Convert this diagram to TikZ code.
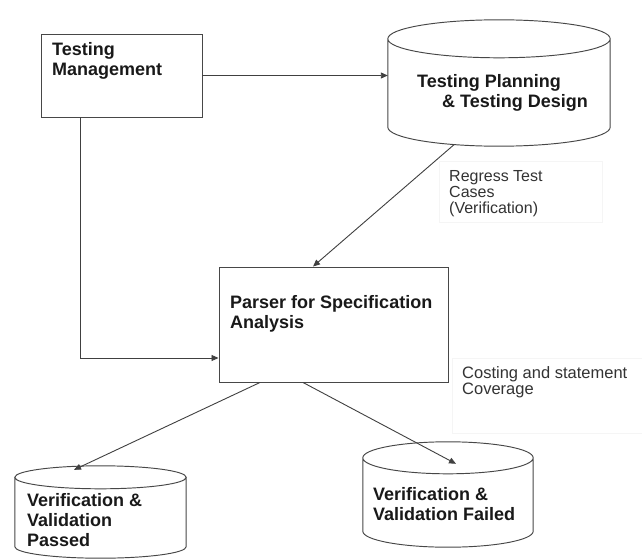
\documentclass[tikz,border=0pt]{standalone}
\usepackage{fontspec}
\setmainfont{Liberation Sans}
\usetikzlibrary{arrows.meta,calc}
\tikzset{
  shapeline/.style={draw=black!72, line width=0.95pt},
  boxnode/.style={shapeline, rectangle, inner sep=0pt},
  cylarea/.style={rectangle, draw=none, inner sep=0pt},
  bigtext/.style={inner sep=0pt, anchor=north west, align=left, text=black!90,
    font=\bfseries\fontsize{18}{20}\selectfont},
  smalltext/.style={inner sep=0pt, anchor=north west, align=left, text=black!80,
    font=\fontsize{16}{16}\selectfont},
  faintbox/.style={rectangle, draw=black!4, line width=0.8pt, inner sep=0pt},
  conn/.style={draw=black!75, line width=0.9pt},
  arr/.style={conn, -{Triangle[length=7pt,width=6pt]}}
}
\newcommand\cylpath[2]{%
  \draw[shapeline] let \p1=(#1.north west), \p2=(#1.south east),
    \n1={(\x2-\x1)/2} in
    ({(\x1+\x2)/2},{\y1-#2}) ellipse [x radius=\n1, y radius=#2]
    (\x1,{\y1-#2}) -- (\x1,{\y2+#2})
    arc [start angle=180, end angle=360, x radius=\n1, y radius=#2]
    -- (\x2,{\y1-#2});
}
\begin{document}
\begin{tikzpicture}[x=1pt,y=-1pt]
\useasboundingbox[fill=white] (0,0) rectangle (642,559);

% label boxes (faint)
\node[faintbox, minimum width=163pt, minimum height=61pt, anchor=north west] (regbox) at (439,161) {};
\node[faintbox, minimum width=200pt, minimum height=75pt, anchor=north west] (costbox) at (452,358) {};

% main shapes
\node[boxnode, minimum width=161pt, minimum height=83pt] (tm) at (121.5,75.5) {};
\node[cylarea, minimum width=222pt, minimum height=126pt] (tpd) at (499,83) {};
\node[boxnode, minimum width=229pt, minimum height=115pt] (parser) at (333.5,324.5) {};
\node[cylarea, minimum width=171pt, minimum height=92pt] (vvp) at (100.5,512) {};
\node[cylarea, minimum width=170pt, minimum height=105pt] (vvf) at (448,494.5) {};

\cylpath{tpd}{19pt}
\cylpath{vvp}{11.5pt}
\cylpath{vvf}{16pt}

% texts
\node[bigtext] (tmt) at (52,42.5) {Testing\\Management};
\node[bigtext] (tpdt) at (417,74) {Testing Planning\\\hspace*{25pt}\& Testing Design};
\node[bigtext] (pt) at (230,295) {Parser for Specification\\Analysis};
\node[bigtext] (vvpt) at (27,493) {Verification \&\\Validation\\Passed};
\node[bigtext] (vvft) at (373,487) {Verification \&\\Validation Failed};
\node[smalltext] (regt) at (449,170) {Regress Test\\Cases\\(Verification)};
\node[smalltext, font=\fontsize{16.5}{16}\selectfont] (costt) at (462,366) {Costing and statement\\Coverage};

% connectors
\draw[arr] (tm.east) -- (tm.east -| tpd.west);
\draw[arr] ([xshift=-45pt,yshift=1.5pt]tpd.south) -- ([xshift=-20.5pt]parser.north);
\draw[arr] ([xshift=-41.5pt]tm.south) |- ([yshift=-33.5pt]parser.west);
\draw[arr] ([xshift=-73.5pt]parser.south) -- ([xshift=-26.5pt,yshift=-4pt]vvp.north);
\draw[arr] ([xshift=-30.5pt]parser.south) -- ([xshift=8pt,yshift=-22pt]vvf.north);
\end{tikzpicture}
\end{document}
